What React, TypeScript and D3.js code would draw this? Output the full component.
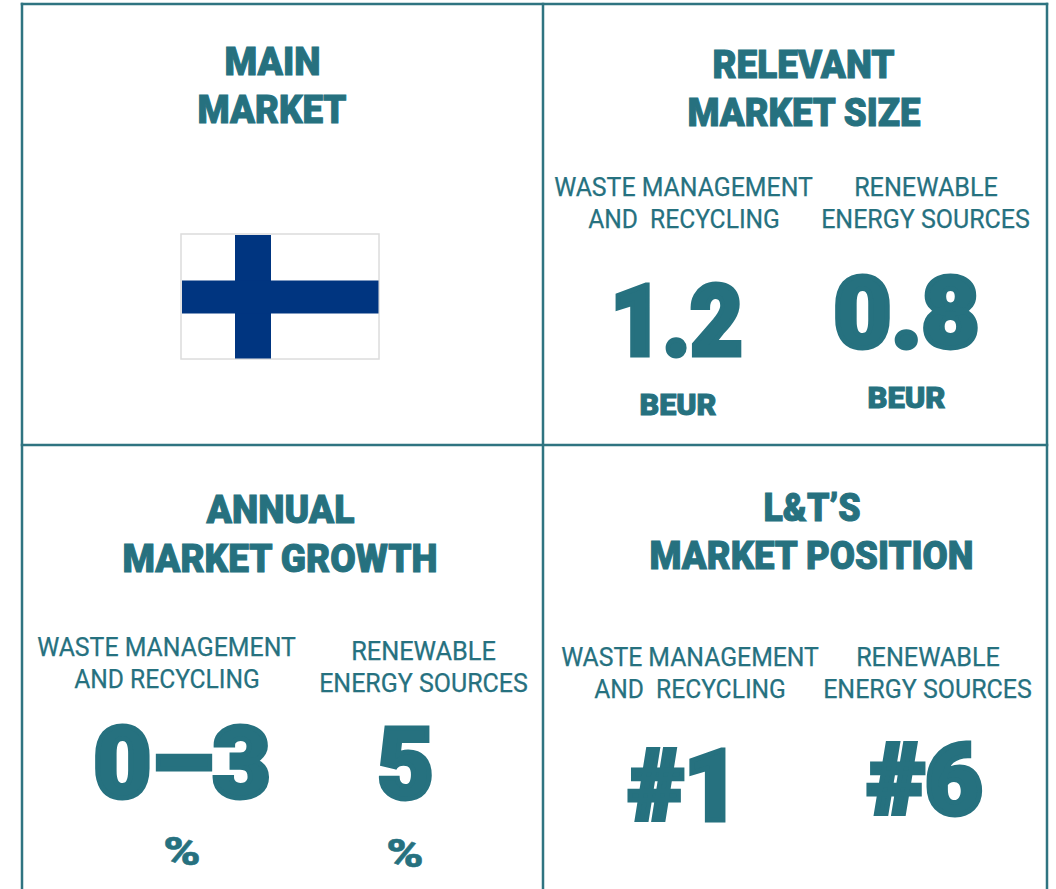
import React, { useEffect, useRef } from "react";
import * as d3 from "d3";

const titleLines = ["MAIN", "MARKET", "RELEVANT", "MARKET SIZE", "ANNUAL", "MARKET GROWTH", "L&T\u2019S", "MARKET POSITION"];
const labelLines = [
  "WASTE MANAGEMENT", "AND  RECYCLING", "RENEWABLE", "ENERGY SOURCES",
  "WASTE MANAGEMENT", "AND RECYCLING", "RENEWABLE", "ENERGY SOURCES",
  "WASTE MANAGEMENT", "AND  RECYCLING", "RENEWABLE", "ENERGY SOURCES",
];
const bigValues = ["1.2", "0.8", "0\u20133", "5", "#1", "#6"];
const currencyUnits = ["BEUR", "BEUR"];
const percentUnits = ["%", "%"];

// x0, x1, baseline of each text
const titleBoxes = [
  [224, 321, 75], [197, 347, 123], [712, 895, 78], [687, 921, 126],
  [206, 355, 523], [122, 438, 572], [763, 861, 521], [649, 974, 569],
];
const labelBoxes = [
  [554, 813, 196], [588, 780, 228], [854, 998, 196], [821, 1030, 228],
  [37, 296, 656], [74, 260, 688], [351, 496, 660], [319, 528, 692],
  [561, 819, 666], [594, 786, 698], [856, 1000, 666], [823, 1032, 698],
];
const bigBoxes = [
  [608, 745, 357], [831, 982, 349], [91, 273, 799], [375, 436, 800], [626, 742, 822], [865, 985, 816],
];
const currencyBoxes = [[639, 717, 415], [867, 946, 408]];
const percentBoxes = [[163, 201, 865], [386, 424, 867]];

const frame = [
  [22, 4, 1047, 4],
  [22, 445, 1047, 445],
  [22, 4, 22, 889],
  [543, 4, 543, 889],
  [1047, 4, 1047, 889],
];

const ink = "#26717f";
const rule = "#2f7481";
const flagBlue = "#003580";

const App = () => {
  const svgRef = useRef<SVGSVGElement>(null);

  useEffect(() => {
    const svg = d3.select(svgRef.current);
    svg.selectAll("*").remove();

    // stroke fattens the glyphs, the box is inset so the outer edge stays put
    const drawText = (lines: string[], boxes: number[][], size: number, weight: number, stroke: number) => {
      svg
        .append("g")
        .selectAll("text")
        .data(lines)
        .enter()
        .append("text")
        .attr("x", (_, i) => boxes[i][0] + stroke / 2)
        .attr("y", (_, i) => boxes[i][2] - stroke / 2)
        .attr("textLength", (_, i) => boxes[i][1] - boxes[i][0] - stroke)
        .attr("lengthAdjust", "spacingAndGlyphs")
        .attr("font-family", "Roboto, sans-serif")
        .attr("font-size", size)
        .attr("font-weight", weight)
        .attr("fill", ink)
        .attr("stroke", ink)
        .attr("stroke-width", stroke)
        .attr("stroke-linejoin", "miter")
        .style("white-space", "pre")
        .text((d) => d);
    };

    svg
      .append("g")
      .selectAll("line")
      .data(frame)
      .enter()
      .append("line")
      .attr("x1", (d) => d[0])
      .attr("y1", (d) => d[1])
      .attr("x2", (d) => d[2])
      .attr("y2", (d) => d[3])
      .attr("stroke", rule)
      .attr("stroke-width", 2.5)
      .attr("stroke-linecap", "square");

    // flag
    const flag = svg.append("g");
    flag.append("rect").attr("x", 181).attr("y", 234).attr("width", 198).attr("height", 125).attr("fill", "#fff").attr("stroke", "#dcdcdc").attr("stroke-width", 1.5);
    flag.append("rect").attr("x", 235).attr("y", 235).attr("width", 36).attr("height", 123.5).attr("fill", flagBlue);
    flag.append("rect").attr("x", 182).attr("y", 280.5).attr("width", 196.5).attr("height", 33).attr("fill", flagBlue);

    drawText(titleLines, titleBoxes, 38, 900, 1);
    drawText(labelLines, labelBoxes, 26, 400, 0.25);
    drawText(bigValues, bigBoxes, 99, 900, 5);
    drawText(currencyUnits, currencyBoxes, 30, 900, 1);
    drawText(percentUnits, percentBoxes, 38, 900, 0.5);
  }, []);

  return <svg ref={svgRef} width={1056} height={889} style={{ position: "absolute", left: 0, top: 0, background: "#fff" }} />;
};

export default App;
